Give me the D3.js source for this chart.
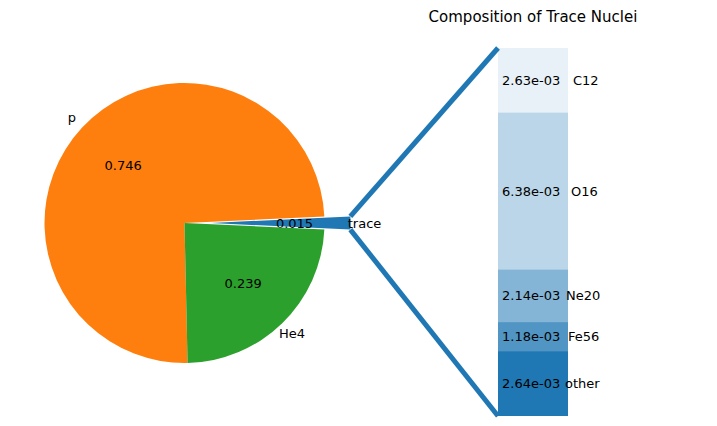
<!DOCTYPE html>
<html><head><meta charset="utf-8">
<script src="https://cdn.jsdelivr.net/npm/d3@7"></script>
<style>body{margin:0;background:#fff}text{font-family:"DejaVu Sans",sans-serif;font-size:13px;fill:#000}</style>
</head><body><svg id="c" width="717" height="426"></svg>
<script>
const pieLabels=["trace","p","He4"];
const pieValues=[0.015,0.746,0.239];
const pieColors=["#1f77b4","#ff7f0e","#2ca02c"];
const barNames=["other","Fe56","Ne20","O16","C12"];
const barValues=[2.64e-3,1.18e-3,2.14e-3,6.38e-3,2.63e-3];
const barAlpha=[1.0,0.78,0.55,0.3,0.1];

const svg=d3.select("#c");
const cx=184.5,cy=223,R=140,explode=26;
const start=-pieValues[0]*Math.PI; // math angle
let a=start;
const slices=pieValues.map((v,i)=>{const s=a;a+=v*2*Math.PI;return{s,e:a,i,v};});
const arc=d3.arc().innerRadius(0).outerRadius(R);
slices.forEach(sl=>{
  const mid=(sl.s+sl.e)/2;
  const off=sl.i===0?explode:0;
  const ox=cx+off*Math.cos(mid),oy=cy-off*Math.sin(mid);
  // d3 angle: 0 at top clockwise; convert math angle
  const g=svg.append("g").attr("transform",`translate(${ox},${oy})`);
  g.append("path").attr("d",arc({startAngle:Math.PI/2-sl.e,endAngle:Math.PI/2-sl.s})).attr("fill",pieColors[sl.i]);
  g.append("text").attr("x",0.6*R*Math.cos(mid)).attr("y",-0.6*R*Math.sin(mid)).attr("dy","0.35em").attr("text-anchor","middle").text(sl.v.toFixed(3));
  g.append("text").attr("x",1.1*R*Math.cos(mid)).attr("y",-1.1*R*Math.sin(mid)).attr("dy","0.35em").attr("text-anchor","middle").text(pieLabels[sl.i]);
});
// bar
const bx=498,bw=70;
const total=d3.sum(barValues);
const y=d3.scaleLinear().domain([0,total]).range([416,48]);
let cum=0;
barValues.forEach((v,i)=>{
  const y0=y(cum),y1=y(cum+v);cum+=v;
  svg.append("rect").attr("x",bx).attr("y",y1).attr("width",bw).attr("height",y0-y1).attr("fill","#1f77b4").attr("fill-opacity",barAlpha[i]);
  const ym=(y0+y1)/2;
  svg.append("text").attr("x",502).attr("y",ym).attr("dy","0.35em").text(v.toExponential(2).replace("e-3","e-03"));
  const nx={C12:573,O16:571,Ne20:566,Fe56:568,other:565}[barNames[i]];
  svg.append("text").attr("x",nx).attr("y",ym).attr("dy","0.35em").text(barNames[i]);
});
svg.append("text").attr("x",533).attr("y",22).attr("text-anchor","middle").style("font-size","15px").text("Composition of Trace Nuclei");
// connectors
const t0=slices[0];
const ox=cx+explode,oy=cy;
const p1=[ox+R*Math.cos(t0.e),oy-R*Math.sin(t0.e)],p2=[ox+R*Math.cos(t0.s),oy-R*Math.sin(t0.s)];
svg.append("line").attr("x1",bx).attr("y1",y(total)).attr("x2",p1[0]).attr("y2",p1[1]).attr("stroke","#1f77b4").attr("stroke-width",5);
svg.append("line").attr("x1",bx).attr("y1",y(0)).attr("x2",p2[0]).attr("y2",p2[1]).attr("stroke","#1f77b4").attr("stroke-width",5);
</script></body></html>
